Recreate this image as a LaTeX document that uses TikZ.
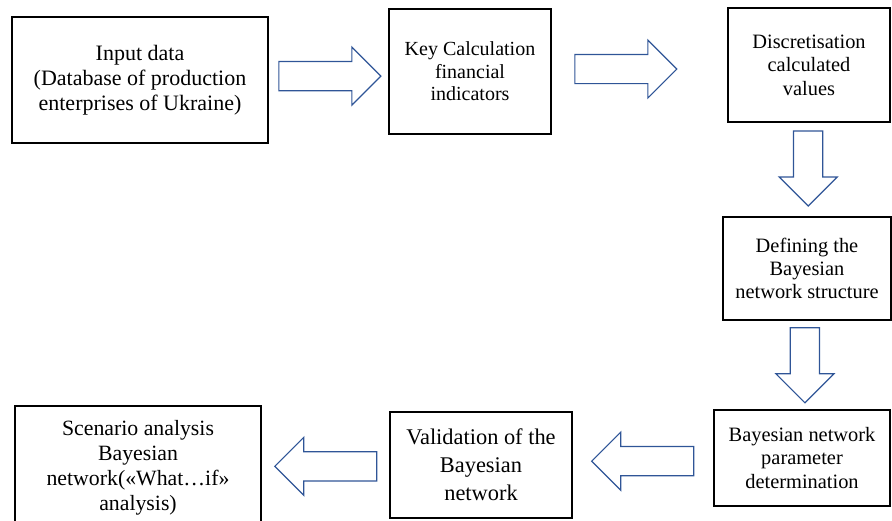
\documentclass[tikz,border=0pt]{standalone}
\usepackage{fontspec}
\setmainfont{Liberation Serif}
\usetikzlibrary{shapes.arrows,calc}
\definecolor{arrowblue}{RGB}{47,85,151}
\tikzset{
  procbox/.style={draw, line width=1.2pt, align=center, inner sep=0pt, font=\fontsize{10.2}{11.7}\selectfont},
  bigarrow/.style={single arrow, draw=arrowblue, line width=0.6pt, inner sep=0pt, inner ysep=7pt,
    minimum height=51pt, single arrow head extend=7.2pt},
}
\begin{document}
\begin{tikzpicture}[x=0.5pt,y=-0.5pt]
  \useasboundingbox (0,0) rectangle (892,520);
  \clip (0,0) rectangle (892,520);
  \node[procbox, minimum width=128pt, minimum height=63pt, font=\fontsize{11}{12.5}\selectfont] (input) at (140,80) {Input data\\(Database of production\\enterprises of Ukraine)};
  \node[procbox, minimum width=81pt, minimum height=62.5pt, font=\fontsize{10}{11.3}\selectfont] (key) at (470,71.5) {Key Calculation\\financial\\indicators};
  \node[procbox, minimum width=81pt, minimum height=57pt] (disc) at (809,65) {Discretisation\\calculated\\values};
  \node[procbox, minimum width=84pt, minimum height=51.5pt] (struct) at (807,268.5) {Defining the\\Bayesian\\network structure};
  \node[procbox, minimum width=88pt, minimum height=48pt] (param) at (802,458) {Bayesian network\\parameter\\determination};
  \node[procbox, minimum width=91pt, minimum height=53pt, font=\fontsize{11.2}{14}\selectfont] (valid) at (481,465) {Validation of the\\Bayesian\\network};
  \node[procbox, minimum width=123pt, minimum height=62pt, font=\fontsize{10.9}{12.5}\selectfont] (scen) at (138,468) {Scenario analysis\\Bayesian\\network(«What…if»\\analysis)};
  \node[bigarrow] (a1) at ($(input.east)!0.45!(key.west)$) {};
  \node[bigarrow] (a2) at ($(key.east)!0.38!(disc.west)$) {};
  \node[bigarrow, rotate=270, minimum height=37.5pt] (a3) at ($(disc.south)!0.41!(struct.north)$) {};
  \node[bigarrow, rotate=270, minimum height=37.5pt] (a4) at ($(struct.south)!0.42!(param.north)$) {};
  \node[bigarrow, rotate=180] (a5) at ($(param.west)!0.45!(valid.east)$) {};
  \node[bigarrow, rotate=180] (a6) at ($(valid.west)!0.44!(scen.east)$) {};
\end{tikzpicture}
\end{document}
